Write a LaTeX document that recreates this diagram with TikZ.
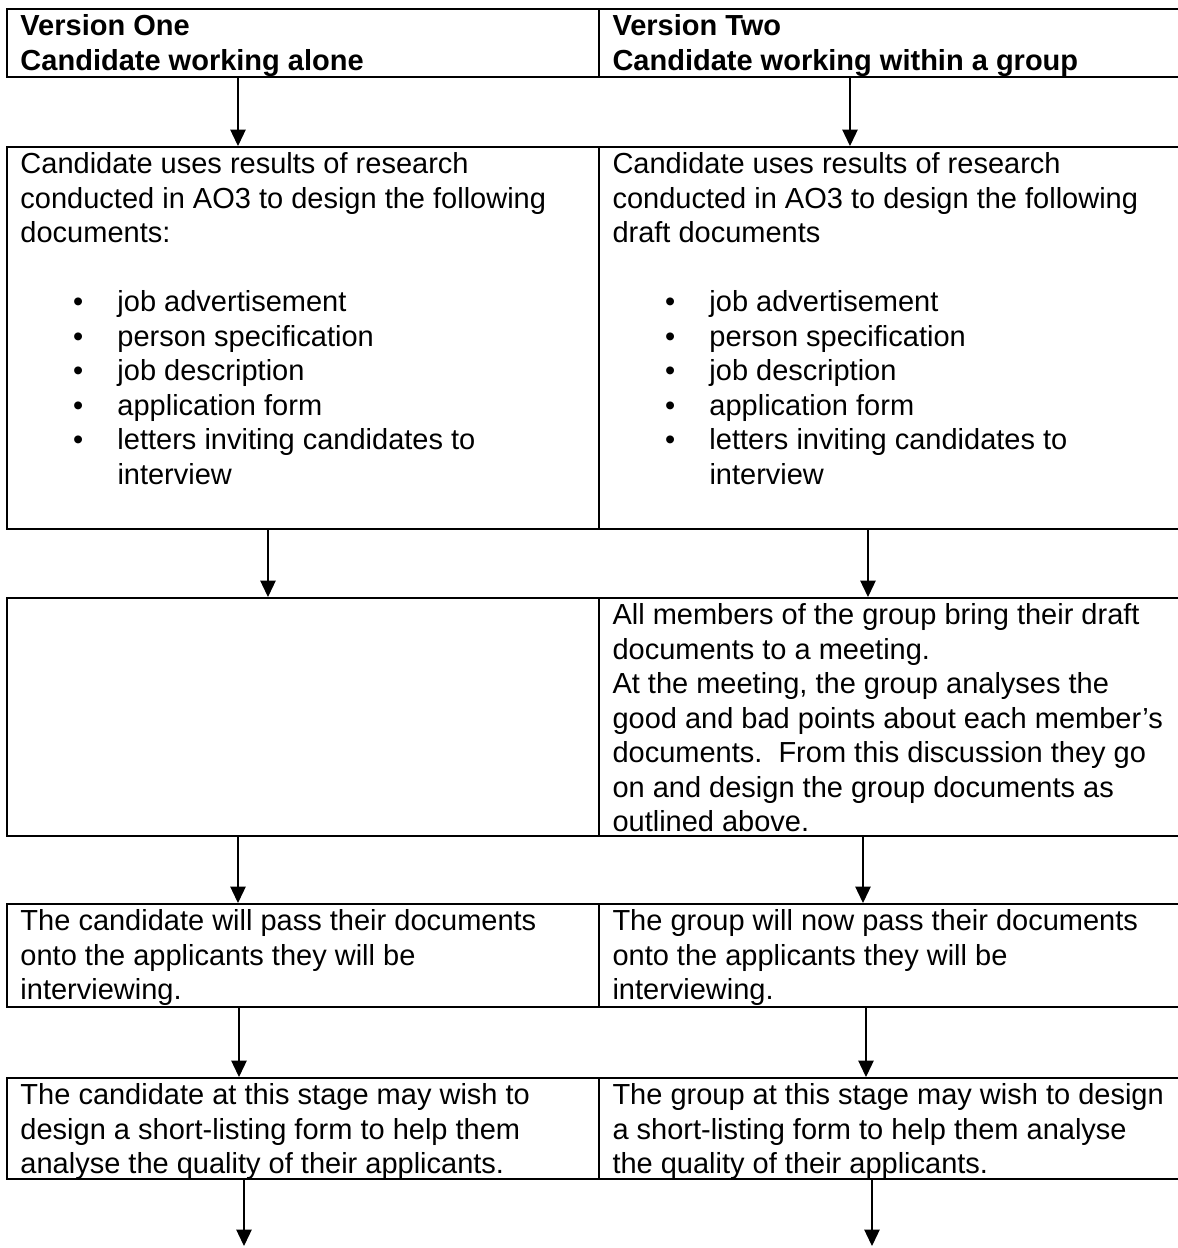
\documentclass[tikz,border=0pt]{standalone}
\usepackage{fontspec}
\setmainfont{Liberation Sans}
\usetikzlibrary{arrows.meta}
\tikzset{
  cell/.style={draw, line width=0.75pt, rectangle, inner sep=0pt, anchor=north west, minimum height=#1},
  lcol/.style={minimum width=236.8pt},
  rcol/.style={minimum width=232.8pt},
  txt/.style={anchor=north west, inner sep=0pt, align=left, font=\fontsize{11.6}{13.8}\selectfont},
  arr/.style={line width=0.5pt, -{Triangle[length=6.6pt,width=6.2pt]}},
}
\newcommand{\bul}[1]{\hspace*{21pt}\makebox[17.8pt][l]{\textbullet}#1}
\newcommand{\bulcont}[1]{\hspace*{38.8pt}#1}
\begin{document}
\begin{tikzpicture}[x=0.4pt,y=-0.4pt]
\useasboundingbox (0,0) rectangle (1178,1248);
% row 1 header
\node[cell=27.2pt, lcol] (h1) at (6,8) {};
\node[cell=27.2pt, rcol] (h2) at (598,8) {};
% row 2
\node[cell=152.8pt, lcol] (a1) at (6,146) {};
\node[cell=152.8pt, rcol] (a2) at (598,146) {};
% row 3
\node[cell=95.2pt, lcol] (b1) at (6,597) {};
\node[cell=95.2pt, rcol] (b2) at (598,597) {};
% row 4
\node[cell=41.2pt, lcol] (c1) at (6,903) {};
\node[cell=41.2pt, rcol] (c2) at (598,903) {};
% row 5
\node[cell=40.4pt, lcol] (d1) at (6,1077) {};
\node[cell=40.4pt, rcol] (d2) at (598,1077) {};
% texts
\node[txt] (th1) at ([xshift=5.6pt,yshift=-2.4pt]h1.north west) {\textbf{Version One}\\\textbf{Candidate working alone}};
\node[txt] (th2) at ([xshift=5.6pt,yshift=-2.4pt]h2.north west) {\textbf{Version Two}\\\textbf{Candidate working within a group}};
\node[txt] (ta1) at ([xshift=5.6pt,yshift=-2.4pt]a1.north west) {Candidate uses results of research\\conducted in AO3 to design the following\\documents:\\\mbox{}\\\bul{job advertisement}\\\bul{person specification}\\\bul{job description}\\\bul{application form}\\\bul{letters inviting candidates to}\\\bulcont{interview}};
\node[txt] (ta2) at ([xshift=5.6pt,yshift=-2.4pt]a2.north west) {Candidate uses results of research\\conducted in AO3 to design the following\\draft documents\\\mbox{}\\\bul{job advertisement}\\\bul{person specification}\\\bul{job description}\\\bul{application form}\\\bul{letters inviting candidates to}\\\bulcont{interview}};
\node[txt] (tb2) at ([xshift=5.6pt,yshift=-2.4pt]b2.north west) {All members of the group bring their draft\\documents to a meeting.\\At the meeting, the group analyses the\\good and bad points about each member’s\\documents.\ \ From this discussion they go\\on and design the group documents as\\outlined above.};
\node[txt] (tc1) at ([xshift=5.6pt,yshift=-2.4pt]c1.north west) {The candidate will pass their documents\\onto the applicants they will be\\interviewing.};
\node[txt] (tc2) at ([xshift=5.6pt,yshift=-2.4pt]c2.north west) {The group will now pass their documents\\onto the applicants they will be\\interviewing.};
\node[txt] (td1) at ([xshift=5.6pt,yshift=-2.4pt]d1.north west) {The candidate at this stage may wish to\\design a short-listing form to help them\\analyse the quality of their applicants.};
\node[txt] (td2) at ([xshift=5.6pt,yshift=-2.4pt]d2.north west) {The group at this stage may wish to design\\a short-listing form to help them analyse\\the quality of their applicants.};
% arrows
\draw[arr] (h1.south -| 238,0) -- (a1.north -| 238,0);
\draw[arr] (h2.south -| 850,0) -- (a2.north -| 850,0);
\draw[arr] (a1.south -| 268,0) -- (b1.north -| 268,0);
\draw[arr] (a2.south -| 868,0) -- (b2.north -| 868,0);
\draw[arr] (b1.south -| 238,0) -- (c1.north -| 238,0);
\draw[arr] (b2.south -| 863,0) -- (c2.north -| 863,0);
\draw[arr] (c1.south -| 239,0) -- (d1.north -| 239,0);
\draw[arr] (c2.south -| 866,0) -- (d2.north -| 866,0);
\coordinate (endL) at (244,1246);
\coordinate (endR) at (872,1246);
\draw[arr] (d1.south -| endL) -- (endL);
\draw[arr] (d2.south -| endR) -- (endR);
\end{tikzpicture}
\end{document}
